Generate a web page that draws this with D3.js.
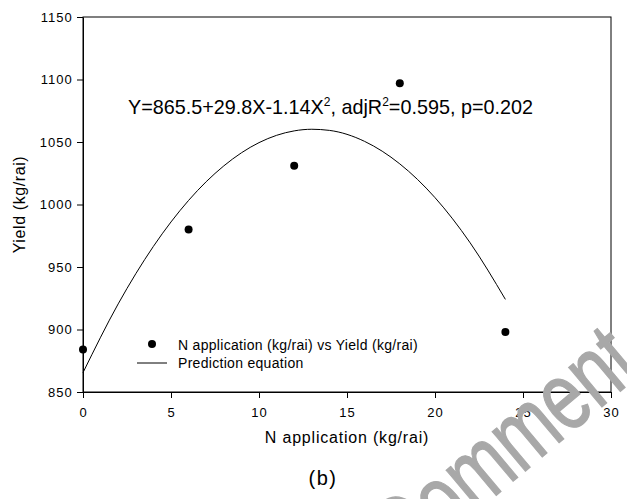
<!DOCTYPE html>
<html>
<head>
<script src="https://d3js.org/d3.v7.min.js"></script>
<style>
    body { margin: 0; background: #fff; }
    svg text { font-family: "Liberation Sans", Arial, sans-serif; }
</style>
</head>
<body>
<svg id="chart" width="627" height="499"></svg>
<script>
// observed points
const nRate = [0, 6, 12, 18, 24];
const yieldObs = [884, 980, 1031, 1097, 898];

// prediction curve
const curveX = [0, 2, 4, 6, 8, 10, 12, 13, 14, 16, 18, 20, 22, 24];
const curveY = [865.5, 920.5, 966.5, 1003.3, 1030.9, 1049.5, 1058.9, 1060.2, 1059.3, 1050.5, 1032.5, 1005.5, 969.3, 924.1];

const xTicks = [0, 5, 10, 15, 20, 25, 30];
const yTicks = [850, 900, 950, 1000, 1050, 1100, 1150];

const svg = d3.select("svg#chart");
const margin = {top: 17, right: 16, bottom: 107, left: 83};
const width = 627, height = 499;
const plotW = width - margin.left - margin.right;
const plotH = height - margin.top - margin.bottom;

const x = d3.scaleLinear().domain([0, 30]).range([0, plotW]);
const y = d3.scaleLinear().domain([850, 1150]).range([plotH, 0]);

const g = svg.append("g")
    .attr("transform", `translate(${margin.left},${margin.top})`);

// frame
g.append("rect")
    .attr("width", plotW).attr("height", plotH)
    .attr("fill", "none").attr("stroke", "#000").attr("stroke-width", 1);

const bottomAxis = d3.axisBottom(x).tickValues(xTicks).tickFormat(d3.format("d")).tickSize(6).tickSizeOuter(0);
const leftAxis = d3.axisLeft(y).tickValues(yTicks).tickFormat(d3.format("d")).tickSize(6).tickSizeOuter(0);

const bx = g.append("g").attr("transform", `translate(0,${plotH})`).call(bottomAxis);
const ly = g.append("g").call(leftAxis);
[bx, ly].forEach(a => {
    a.selectAll("text").style("font-size", "13px").attr("fill", "#000")
     .style("letter-spacing", "1px")
     .style("font-family", "'Liberation Sans', Arial, sans-serif");
    a.select(".domain").attr("stroke", "#000");
});
bx.selectAll("text").attr("dy", "1.25em");
ly.selectAll("text").attr("dx", "-0.1em");

// prediction line
const line = d3.line()
    .x((d, i) => x(curveX[i]))
    .y(d => y(d))
    .curve(d3.curveMonotoneX);
g.append("path")
    .datum(curveY)
    .attr("fill", "none")
    .attr("stroke", "#000")
    .attr("stroke-width", 1)
    .attr("d", line);

// points
g.selectAll("circle.obs").data(yieldObs)
    .join("circle")
    .attr("class", "obs")
    .attr("cx", (d, i) => x(nRate[i]))
    .attr("cy", d => y(d))
    .attr("r", 4)
    .attr("fill", "#000");

// equation
const eq = g.append("text")
    .attr("x", 45).attr("y", 97)
    .style("font-size", "19.8px")
    .attr("fill", "#000");
eq.append("tspan").text("Y=865.5+29.8X-1.14X");
eq.append("tspan").attr("dy", -8).style("font-size", "12px").text("2");
eq.append("tspan").attr("dy", 8).text(", adjR");
eq.append("tspan").attr("dy", -8).style("font-size", "12px").text("2");
eq.append("tspan").attr("dy", 8).text("=0.595, p=0.202");

// legend
const leg = g.append("g").attr("transform", "translate(54,327)");
leg.append("circle").attr("cx", 15).attr("cy", 0).attr("r", 4).attr("fill", "#000");
leg.append("text").attr("x", 41).attr("y", 5.5).style("font-size", "14px").style("letter-spacing", "0.3px")
    .text("N application (kg/rai) vs Yield (kg/rai)");
leg.append("line").attr("x1", 0).attr("x2", 30).attr("y1", 19).attr("y2", 19).attr("stroke", "#000");
leg.append("text").attr("x", 41).attr("y", 24).style("font-size", "14px").style("letter-spacing", "0.3px")
    .text("Prediction equation");

// axis titles
svg.append("text")
    .attr("x", margin.left + plotW / 2).attr("y", 443)
    .attr("text-anchor", "middle").style("font-size", "16px").style("letter-spacing", "0.8px")
    .text("N application (kg/rai)");
svg.append("text")
    .attr("transform", `translate(25,${margin.top + plotH / 2}) rotate(-90)`)
    .attr("text-anchor", "middle").style("font-size", "16px").style("letter-spacing", "0.6px")
    .text("Yield (kg/rai)");

// panel label
svg.append("text")
    .attr("x", 323).attr("y", 485)
    .attr("text-anchor", "middle").style("font-size", "20px").style("letter-spacing", "1.5px")
    .text("(b)");

// watermark (stretched, rotated)
svg.append("text")
    .attr("transform", "translate(405,572) rotate(-40) scale(1,1.35)")
    .style("font-size", "72px")
    .attr("fill", "#a8a8a8")
    .attr("stroke", "#a8a8a8")
    .attr("stroke-width", 1)
    .text("Comment");
</script>
</body>
</html>
